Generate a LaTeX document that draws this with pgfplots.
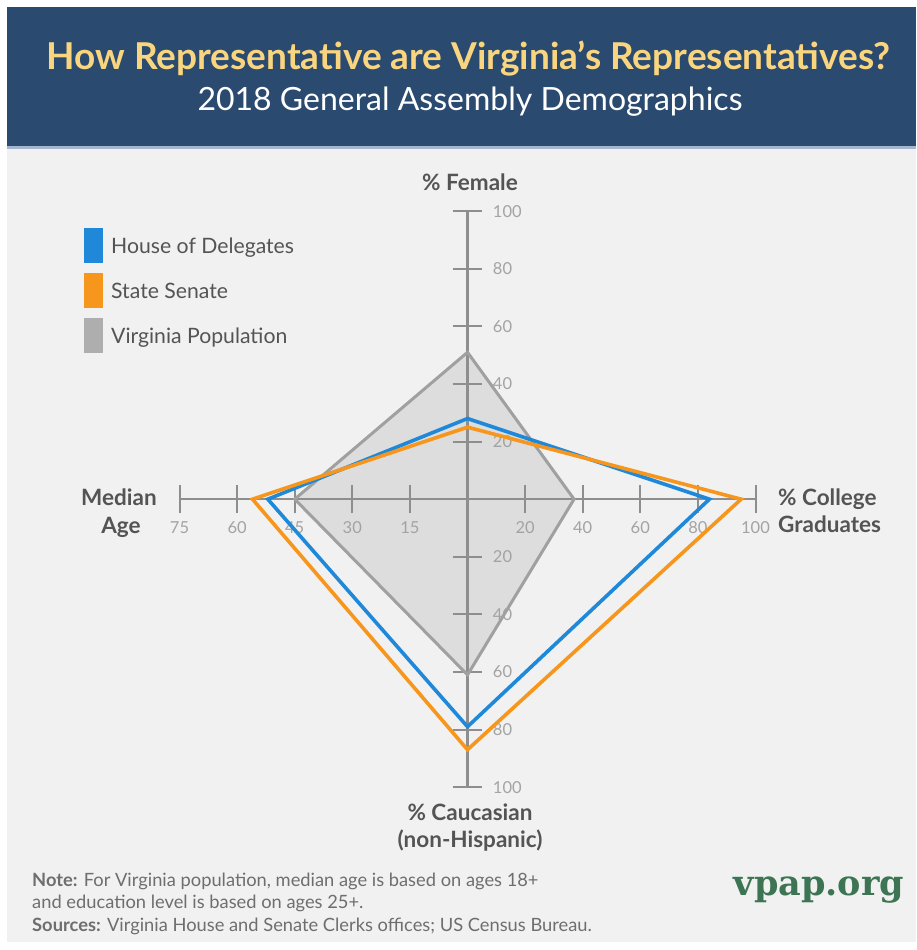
\documentclass[border=0pt]{standalone}
\usepackage{pgfplots}
\pgfplotsset{compat=1.18}
\usepackage{pgfplotstable}
\usepackage{fontspec}
\setmainfont{Lato}
\newfontfamily\slabfont{DejaVu Serif}

\definecolor{header}{HTML}{2B4A6F}
\definecolor{gold}{HTML}{FAD57F}
\definecolor{panel}{HTML}{F1F1F1}
\definecolor{rule}{HTML}{A3B5CF}
\definecolor{axisgray}{HTML}{8E8E8E}
\definecolor{ticktext}{HTML}{A3A3A3}
\definecolor{labeltext}{HTML}{545454}
\definecolor{notetext}{HTML}{6E6E6E}
\definecolor{house}{HTML}{1F88D9}
\definecolor{senate}{HTML}{F7961C}
\definecolor{vapop}{HTML}{A0A0A0}
\definecolor{vafill}{HTML}{DDDDDD}
\definecolor{vpapgreen}{HTML}{3D7453}

% one row per spoke, (dx,dy) is its direction
% rows: % female, % college graduates, % caucasian (non-hispanic), median age
% median age is in years: 15 years take the room of 20 percent
\pgfplotstableread{
dx        dy  house senate virginia
0          1  28    25     51
1          0  84    95     37
0         -1  79    87     61
-1.333333  0  52    56     45
}\demog

\newcommand{\fs}[1]{\fontsize{#1}{#1}\selectfont}

\begin{document}
\begin{tikzpicture}
% page in pixels, y going down
\begin{scope}[x=1pt, y=-1pt, yshift=950pt]
  \fill[white] (0,0) rectangle (916,950);
  \fill[panel] (7,147) rectangle (916,942);
  \fill[header] (7,7) rectangle (916,147);
  \fill[rule] (7,146.5) rectangle (916,149);
  \node[gold, anchor=base, font=\fs{37}\bfseries] at (468.5,70) {How Representative are Virginia’s Representatives?};
  \node[white, anchor=base, font=\fs{32}] at (470,110.5) {2018 General Assembly Demographics};
\end{scope}

\begin{axis}[
  at={(0,0)}, anchor=south west,
  scale only axis, width=916pt, height=950pt,
  xmin=-162.33, xmax=155.73, ymin=-156.53, ymax=173.33,
  hide axis, clip=false,
]
% population area first, spokes over it
\addplot[fill=vafill, draw=none]
  table[x expr=\thisrow{dx}*\thisrow{virginia}, y expr=\thisrow{dy}*\thisrow{virginia}] {\demog} -- cycle;

\draw[axisgray, line width=2.6pt] (axis cs:0,-100) -- (axis cs:0,100);
\draw[axisgray, line width=2.6pt] (axis cs:-100,0) -- (axis cs:100,0);
\pgfplotsinvokeforeach{20,40,60,80,100}{
  \draw[axisgray, line width=2pt] (axis cs:-5.2,#1) -- (axis cs:5.2,#1);
  \draw[axisgray, line width=2pt] (axis cs:-5.2,-#1) -- (axis cs:5.2,-#1);
  \draw[axisgray, line width=2pt] (axis cs:#1,-4.9) -- (axis cs:#1,4.9);
  \draw[axisgray, line width=2pt] (axis cs:-#1,-4.9) -- (axis cs:-#1,4.9);
  \node[ticktext, anchor=west, font=\fs{16.5}] at (axis cs:7.6,#1) {#1};
  \node[ticktext, anchor=west, font=\fs{16.5}] at (axis cs:7.6,-#1) {#1};
  \node[ticktext, font=\fs{16.5}] at (axis cs:#1,-10) {#1};
}
\node[ticktext, font=\fs{16.5}] at (axis cs:-20,-10) {15};
\node[ticktext, font=\fs{16.5}] at (axis cs:-40,-10) {30};
\node[ticktext, font=\fs{16.5}] at (axis cs:-60,-10) {45};
\node[ticktext, font=\fs{16.5}] at (axis cs:-80,-10) {60};
\node[ticktext, font=\fs{16.5}] at (axis cs:-100,-10) {75};

\addplot[vapop, line width=3pt, line join=miter]
  table[x expr=\thisrow{dx}*\thisrow{virginia}, y expr=\thisrow{dy}*\thisrow{virginia}] {\demog} -- cycle;
\addplot[house, line width=3.6pt, line join=miter]
  table[x expr=\thisrow{dx}*\thisrow{house}, y expr=\thisrow{dy}*\thisrow{house}] {\demog} -- cycle;
\addplot[senate, line width=3.6pt, line join=miter]
  table[x expr=\thisrow{dx}*\thisrow{senate}, y expr=\thisrow{dy}*\thisrow{senate}] {\demog} -- cycle;
\end{axis}

\begin{scope}[x=1pt, y=-1pt, yshift=950pt]
  % spoke titles
  \begin{scope}[labeltext, font=\fs{22.5}\bfseries]
    \node[anchor=base] at (470,191) {\% Female};
    \node[anchor=base] at (119,506) {Median};
    \node[anchor=base] at (121,534) {Age};
    \node[anchor=base west, inner sep=0pt] at (778,506) {\% College};
    \node[anchor=base west, inner sep=0pt] at (778,533) {Graduates};
    \node[anchor=base] at (470,821) {\% Caucasian};
    \node[anchor=base] at (470,848) {(non-Hispanic)};
  \end{scope}
  % legend
  \fill[house]  (84,228) rectangle (103,263);
  \fill[senate] (84,273) rectangle (103,308);
  \fill[vapop!85!white] (84,318) rectangle (103,353);
  \begin{scope}[text=labeltext, font=\fs{21.2}]
    \node[anchor=base west, inner sep=0pt] at (111,253.5) {House of Delegates};
    \node[anchor=base west, inner sep=0pt] at (111,298.5) {State Senate};
    \node[anchor=base west, inner sep=0pt] at (111,343.5) {Virginia Population};
  \end{scope}
  % notes
  \begin{scope}[text=notetext, font=\fs{18.3}]
    \node[anchor=base west, inner sep=0pt] at (32,887) {\textbf{Note:} For Virginia population, median age is based on ages 18+};
    \node[anchor=base west, inner sep=0pt] at (32,909) {and education level is based on ages 25+.};
    \node[anchor=base west, inner sep=0pt] at (32,931) {\textbf{Sources:} Virginia House and Senate Clerks offices; US Census Bureau.};
  \end{scope}
  \node[vpapgreen, anchor=base, font=\fs{35}\slabfont\bfseries] at (819,896) {vpap.org};
\end{scope}
\end{tikzpicture}
\end{document}
